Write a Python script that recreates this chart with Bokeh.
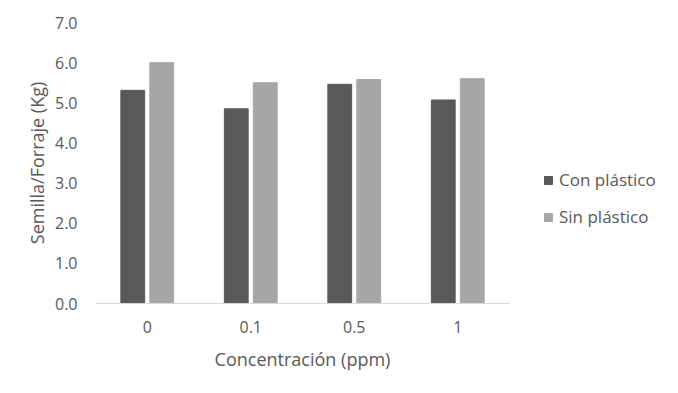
from bokeh.plotting import figure
from bokeh.layouts import row
from bokeh.models import ColumnDataSource, FactorRange, Range1d, Legend, LegendItem, PrintfTickFormatter, FixedTicker
from bokeh.transform import dodge
from bokeh.embed import file_html
from bokeh.resources import INLINE

categories = ["0", "0.1", "0.5", "1"]
con_plastico = [5.31, 4.85, 5.46, 5.07]
sin_plastico = [6.0, 5.5, 5.58, 5.6]
y_ticks = [0, 1, 2, 3, 4, 5, 6, 7]
series_names = ["Con plástico", "Sin plástico"]
colors = ["#595959", "#a6a6a6"]

src = ColumnDataSource(dict(cat=categories, con=con_plastico, sin=sin_plastico))

FONT = "Open Sans"
TXT = "#595959"
p = figure(width=540, height=377, output_backend="svg", toolbar_location=None,
           x_range=FactorRange(*categories, range_padding=0), y_range=Range1d(0, 7),
           min_border_left=95, min_border_right=31, min_border_top=22, min_border_bottom=74)
p.outline_line_color = None
p.xgrid.grid_line_color = None
p.ygrid.grid_line_color = None

p.vbar(x=dodge("cat", -0.14, range=p.x_range), top="con", width=0.23, source=src,
       fill_color=colors[0], line_color=colors[0])
p.vbar(x=dodge("cat", 0.14, range=p.x_range), top="sin", width=0.23, source=src,
       fill_color=colors[1], line_color=colors[1])

p.yaxis.ticker = FixedTicker(ticks=y_ticks)
p.yaxis.formatter = PrintfTickFormatter(format="%.1f")
p.yaxis.axis_line_color = None
p.yaxis.major_tick_line_color = None
p.yaxis.minor_tick_line_color = None
p.yaxis.axis_label = "Semilla/Forraje (Kg)"
p.xaxis.axis_label = "Concentración (ppm)"
p.xaxis.axis_line_color = "#d9d9d9"
p.xaxis.major_tick_line_color = None
p.xaxis.minor_tick_line_color = None
for ax in (p.xaxis[0], p.yaxis[0]):
    ax.major_label_text_font = FONT
    ax.major_label_text_font_size = "16px"
    ax.major_label_text_color = TXT
    ax.axis_label_text_font = FONT
    ax.axis_label_text_font_size = "18px"
    ax.axis_label_text_font_style = "normal"
    ax.axis_label_text_color = TXT
p.xaxis.major_label_standoff = 11
p.yaxis.major_label_standoff = 12
p.xaxis.axis_label_standoff = 11
p.yaxis.axis_label_standoff = 3

# legend panel
p2 = figure(width=122, height=377, output_backend="svg", toolbar_location=None,
            x_range=Range1d(0, 1), y_range=Range1d(0, 1),
            min_border=0, min_border_left=0, min_border_right=0, min_border_top=0, min_border_bottom=0)
p2.axis.visible = False
p2.grid.visible = False
p2.outline_line_color = None
off = ColumnDataSource(dict(l=[-10], r=[-9], b=[-10], t=[-9]))
lr = [p2.quad(left="l", right="r", bottom="b", top="t", source=off, fill_color=c, line_color=c)
      for c in colors]
legend = Legend(items=[LegendItem(label=n, renderers=[r]) for n, r in zip(series_names, lr)],
                location=(3, 75), border_line_color=None, background_fill_alpha=0,
                label_text_font=FONT, label_text_font_size="17px", label_text_color=TXT,
                glyph_width=10, glyph_height=10, spacing=14, margin=0, padding=0,
                label_standoff=6)
p2.add_layout(legend, "center")

layout = row(p, p2)
open("out.html", "w").write(file_html(layout, INLINE))
